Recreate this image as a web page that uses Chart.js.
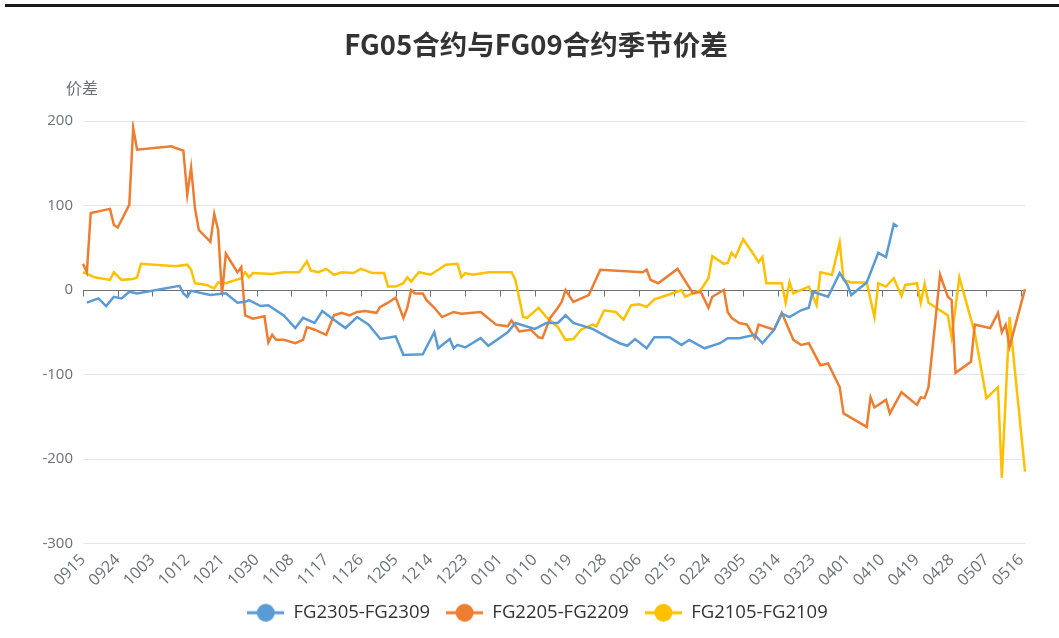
<!DOCTYPE html>
<html>
<head>
<meta charset="utf-8">
<script src="https://cdn.jsdelivr.net/npm/chart.js@4.4.1/dist/chart.umd.min.js"></script>
<style>
  html, body { margin: 0; padding: 0; background: #fff; }
  #wrap { position: relative; width: 1059px; height: 638px; }
  #topbar { position: absolute; left: 5px; top: 4px; width: 1054px; height: 3px; background: #1a1a1a; }
</style>
</head>
<body>
<div id="wrap">
  <div id="topbar"></div>
  <canvas id="spreadChart" width="1059" height="638"></canvas>
</div>
<script>
    // daily categories 0915 .. 0517, every 9th one is labelled
    const days = [];
    for (let d = new Date(2022, 8, 15); d <= new Date(2023, 4, 17); d.setDate(d.getDate() + 1)) {
        days.push(String(d.getMonth() + 1).padStart(2, '0') + String(d.getDate()).padStart(2, '0'));
    }

    const yTicks = [-300, -200, -100, 0, 100, 200];

    const fg23Dates = ['0916','0919','0921','0923','0925','0927','0929','1010','1011','1012','1013','1018','1022','1025','1027','1028','1031',
        '1102','1106','1109','1111','1114','1116','1118','1122','1125','1128','1201','1205','1207','1212','1215','1216','1219','1220','1221','1223','1227','1229',
        '0103','0105','0110','0111','0113','0116','0118','0120','0125','0129','0201','0203','0205','0208','0210','0214','0215','0217','0219','0223','0227',
        '0301','0304','0308','0310','0313','0315','0317','0320','0322','0323','0327','0330','0401','0402','0406','0409','0411','0413','0414'];
    const fg23Vals = [-15,-10,-19,-8,-10,-2,-4,5,-4,-8,-1,-6,-4,-15,-14,-12,-19,
        -18,-30,-45,-33,-39,-25,-32,-45,-32,-41,-58,-55,-77,-76,-50,-69,-58,-69,-65,-68,-57,-66,
        -50,-39,-46,-44,-39,-39,-30,-39,-46,-56,-63,-66,-58,-69,-56,-56,-59,-65,-59,-69,-63,
        -57,-57,-53,-63,-47,-28,-32,-24,-21,-2,-8,20,6,-6,9,44,39,78,75];

    const fg22Dates = ['0915','0916','0917','0922','0923','0924','0927','0928','0929','1008','1009','1011','1012','1013','1014','1015','1018','1019','1020','1021','1022','1025','1026','1027','1029',
        '1101','1102','1103','1104','1106','1109','1111','1112','1114','1117','1119','1121','1123','1125','1127','1130',
        '1201','1203','1205','1207','1208','1209','1210','1212','1213','1215','1217','1220','1222','1227','1231',
        '0103','0104','0106','0109','0111','0112','0114','0116','0117','0118','0120','0124','0127',
        '0207','0208','0209','0211','0216','0220','0222','0224','0225','0228',
        '0301','0302','0303','0304','0306','0308','0309','0313','0315','0318','0320','0322','0325','0327','0330','0331',
        '0406','0407','0408','0411','0412','0415','0419','0420','0421','0422','0424','0425','0427','0428','0429',
        '0503','0504','0507','0508','0510','0511','0512','0513','0517'];
    const fg22Vals = [31,21,91,96,77,74,101,192,166,170,168,165,113,145,97,71,57,90,71,-6,43,21,27,-30,-34,
        -31,-62,-53,-59,-59,-63,-59,-44,-47,-53,-30,-27,-30,-26,-25,-27,
        -20,-15,-9,-33,-21,0,-4,-4,-12,-21,-32,-26,-28,-26,-41,
        -43,-36,-49,-47,-56,-57,-33,-21,-14,0,-14,-6,24,
        21,24,12,8,25,-4,-2,-21,-8,0,
        -26,-33,-36,-39,-41,-57,-41,-47,-27,-59,-65,-63,-89,-87,-115,-146,
        -162,-127,-139,-130,-146,-121,-136,-127,-128,-115,-27,18,-8,-12,-98,
        -85,-41,-44,-45,-27,-50,-41,-67,1];

    const fg21Dates = ['0915','0916','0918','0922','0923','0925','0928','0929','0930','1009','1012','1013','1014','1017','1019','1020','1022','1026','1027','1028','1029',
        '1103','1106','1110','1112','1113','1115','1117','1119','1121','1124','1126','1129',
        '1202','1203','1205','1207','1208','1209','1211','1214','1216','1218','1221','1222','1223','1225','1229',
        '0104','0105','0107','0108','0111','0113','0116','0118','0120','0122','0125','0126','0128','0131',
        '0202','0204','0206','0208','0210','0214','0217','0218','0222','0224','0225','0227','0228',
        '0301','0302','0303','0305','0307','0309','0310','0311','0315','0316','0317','0318','0322','0324','0325','0328','0330','0331',
        '0402','0406','0408','0409','0411','0413','0415','0416','0419','0420','0421','0422','0424','0427','0428','0430',
        '0504','0507','0510','0511','0513','0517'];
    const fg21Vals = [21,19,15,12,21,12,13,15,31,28,30,24,8,6,2,9,8,14,21,15,20,
        19,21,21,34,23,21,25,18,21,20,25,20,
        20,4,4,8,15,10,21,18,24,30,31,15,20,18,21,
        21,12,-32,-33,-21,-32,-44,-59,-58,-47,-41,-43,-24,-26,
        -35,-18,-17,-20,-11,-5,0,-8,0,14,40,34,31,
        32,44,39,60,47,33,39,8,8,-15,9,-4,4,-18,21,18,56,12,
        9,9,-32,8,4,14,-7,6,8,-15,7,-15,-21,-30,-56,15,
        -51,-128,-115,-222,-32,-215];

    const seriesNames = ['FG2305-FG2309', 'FG2205-FG2209', 'FG2105-FG2109'];
    const seriesColors = ['#5B9BD5', '#ED7D31', '#FFC000'];

    function toPoints(dates, vals) {
        return dates.map((d, i) => ({ x: d, y: vals[i] }));
    }

    // legend symbol: short line with a dot in the middle
    function legendIcon(color) {
        let c = document.createElement('canvas');
        c.width = 37; c.height = 20;
        let g = c.getContext('2d');
        g.strokeStyle = color; g.lineWidth = 3;
        g.beginPath(); g.moveTo(0, 10); g.lineTo(37, 10); g.stroke();
        g.fillStyle = color;
        g.beginPath(); g.arc(18.5, 10, 9, 0, Math.PI * 2); g.fill();
        return c;
    }

    const decorations = {
        id: 'decorations',
        afterLayout(chart) {
            // legend is centred a bit right of the canvas middle
            if (chart.legend) {
                chart.legend.left += 25;
                chart.legend.right += 25;
            }
        },
        beforeDatasetsDraw(chart) {
            const { ctx, chartArea, scales: { x, y } } = chart;
            const y0 = Math.round(y.getPixelForValue(0)) + 0.5;
            ctx.save();
            ctx.strokeStyle = '#6E7079';
            ctx.lineWidth = 1;
            ctx.beginPath();
            ctx.moveTo(chartArea.left, y0);
            ctx.lineTo(chartArea.right, y0);
            for (let i = 0; i < days.length; i += 9) {
                let px = Math.round(x.getPixelForValue(i)) + 0.5;
                ctx.moveTo(px, y0);
                ctx.lineTo(px, y0 + 6);
            }
            ctx.stroke();
            ctx.restore();
        },
        afterDraw(chart) {
            const ctx = chart.ctx;
            ctx.save();
            ctx.textAlign = 'center';
            ctx.textBaseline = 'middle';
            ctx.fillStyle = '#333';
            ctx.font = 'bold 27.5px "Noto Sans CJK SC", "Open Sans", sans-serif';
            ctx.fillText('FG05合约与FG09合约季节价差', 536, 45);
            ctx.fillStyle = '#6E7079';
            ctx.font = '16px "Noto Sans CJK SC", sans-serif';
            ctx.fillText('价差', 82, 88);
            ctx.restore();
        }
    };

    const datasets = [
        toPoints(fg23Dates, fg23Vals),
        toPoints(fg22Dates, fg22Vals),
        toPoints(fg21Dates, fg21Vals)
    ].map((pts, i) => ({
        label: seriesNames[i],
        data: pts,
        borderColor: seriesColors[i],
        backgroundColor: seriesColors[i],
        borderWidth: 2.5,
        pointRadius: 0,
        pointHoverRadius: 0,
        tension: 0,
        fill: false
    }));

    new Chart(document.getElementById('spreadChart').getContext('2d'), {
        type: 'line',
        data: { labels: days, datasets: datasets },
        plugins: [decorations],
        options: {
            responsive: false,
            animation: false,
            devicePixelRatio: 1,
            layout: { padding: { left: 0, right: 34, top: 121, bottom: 6 } },
            plugins: {
                tooltip: { enabled: false },
                legend: {
                    position: 'bottom',
                    labels: {
                        usePointStyle: true,
                        pointStyleWidth: 37,
                        padding: 16,
                        color: '#333',
                        font: { size: 18.5, family: '"Open Sans", sans-serif' },
                        generateLabels(chart) {
                            return chart.data.datasets.map((ds, i) => ({
                                text: ds.label,
                                fillStyle: ds.borderColor,
                                strokeStyle: ds.borderColor,
                                pointStyle: legendIcon(ds.borderColor),
                                fontColor: '#333',
                                datasetIndex: i,
                                hidden: false
                            }));
                        }
                    }
                }
            },
            scales: {
                x: {
                    type: 'category',
                    offset: false,
                    grid: { display: false, drawTicks: false },
                    border: { display: false },
                    afterFit(scale) { scale.height = 44; },
                    ticks: {
                        autoSkip: false,
                        maxRotation: 45,
                        minRotation: 45,
                        padding: 7,
                        color: '#6E7079',
                        font: { size: 16, family: '"Open Sans", sans-serif' },
                        callback: (v, i) => (i % 9 === 0 ? days[i] : null)
                    }
                },
                y: {
                    min: yTicks[0],
                    max: yTicks[yTicks.length - 1],
                    afterFit(scale) { scale.width = 83; },
                    afterBuildTicks(scale) { scale.ticks = yTicks.map(v => ({ value: v })); },
                    grid: { color: '#E0E6F1', drawTicks: false },
                    border: { display: false },
                    ticks: {
                        padding: 10,
                        color: '#6E7079',
                        font: { size: 15, family: '"Open Sans", sans-serif' }
                    }
                }
            }
        }
    });
</script>
</body>
</html>
